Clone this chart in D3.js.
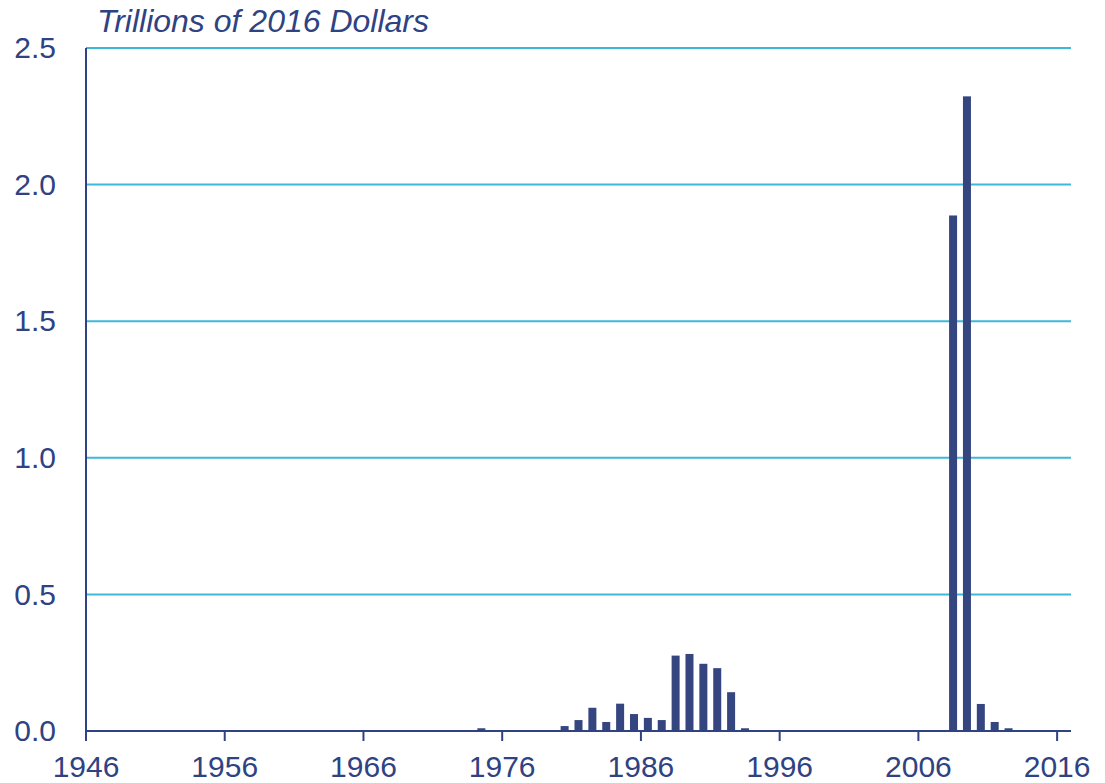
<!DOCTYPE html>
<html>
<head>
<meta charset="utf-8">
<script src="https://cdn.jsdelivr.net/npm/d3@7"></script>
<style>
  body { margin: 0; background: #fff; }
  svg { display: block; font-family: "Liberation Sans", Arial, sans-serif; }
</style>
</head>
<body>
<script>
// years shown on the chart
const years = d3.range(1946, 2017);

// values in trillions of 2016 dollars (non-zero years only)
const nonZeroYears = [1974, 1980, 1981, 1982, 1983, 1984, 1985, 1986, 1987, 1988, 1989, 1990, 1991, 1992, 1993, 2007, 2008, 2009, 2010, 2011, 2012];
const nonZeroValues = [0.01, 0.018, 0.04, 0.085, 0.033, 0.1, 0.062, 0.048, 0.04, 0.276, 0.282, 0.246, 0.23, 0.142, 0.01, 0.003, 1.887, 2.323, 0.099, 0.033, 0.01];

const xTicks = [1946, 1956, 1966, 1976, 1986, 1996, 2006, 2016];
const yTicks = [0, 0.5, 1.0, 1.5, 2.0, 2.5];

const data = years.map(y => {
  const i = nonZeroYears.indexOf(y);
  return { year: y, value: i >= 0 ? nonZeroValues[i] : 0 };
});

const width = 1105, height = 783;
const plotLeft = 86, plotRight = 1071, plotTop = 48, plotBottom = 731;
const navy = '#2f4282';
const barColor = '#34457f';
const gridColor = '#3cb9d7';

const svg = d3.select('body').append('svg')
  .attr('width', width)
  .attr('height', height);

const x = d3.scaleLinear().domain([1946, 2017]).range([plotLeft, plotRight]);
const y = d3.scaleLinear().domain([0, 2.5]).range([plotBottom, plotTop]);

// gridlines
svg.append('g')
  .selectAll('line')
  .data(yTicks.filter(d => d > 0))
  .enter().append('line')
  .attr('x1', plotLeft)
  .attr('x2', plotRight)
  .attr('y1', d => y(d))
  .attr('y2', d => y(d))
  .attr('stroke', gridColor)
  .attr('stroke-width', 2);

// bars
const barW = 8;
svg.append('g')
  .selectAll('rect')
  .data(data.filter(d => d.value > 0))
  .enter().append('rect')
  .attr('x', d => x(d.year + 0.5) - barW / 2)
  .attr('y', d => y(d.value))
  .attr('width', barW)
  .attr('height', d => y(0) - y(d.value))
  .attr('fill', barColor);

// x axis
svg.append('line')
  .attr('x1', plotLeft).attr('x2', plotRight)
  .attr('y1', y(0)).attr('y2', y(0))
  .attr('stroke', navy).attr('stroke-width', 2);

svg.append('g')
  .selectAll('line')
  .data(xTicks)
  .enter().append('line')
  .attr('x1', d => x(d)).attr('x2', d => x(d))
  .attr('y1', y(0)).attr('y2', y(0) + 10)
  .attr('stroke', navy).attr('stroke-width', 2);

svg.append('g')
  .selectAll('text')
  .data(xTicks)
  .enter().append('text')
  .attr('x', d => x(d))
  .attr('y', 777)
  .attr('text-anchor', 'middle')
  .attr('font-size', 30)
  .attr('fill', navy)
  .text(d => d);

// y axis
svg.append('line')
  .attr('x1', plotLeft).attr('x2', plotLeft)
  .attr('y1', plotTop).attr('y2', y(0) + 10)
  .attr('stroke', navy).attr('stroke-width', 2);

svg.append('g')
  .selectAll('text')
  .data(yTicks)
  .enter().append('text')
  .attr('x', 56)
  .attr('y', d => y(d))
  .attr('dy', '0.34em')
  .attr('text-anchor', 'end')
  .attr('font-size', 30)
  .attr('fill', navy)
  .text(d => d3.format('.1f')(d));

// unit label
svg.append('text')
  .attr('x', 97)
  .attr('y', 32)
  .attr('font-size', 32)
  .attr('font-style', 'italic')
  .attr('fill', navy)
  .text('Trillions of 2016 Dollars');
</script>
</body>
</html>
